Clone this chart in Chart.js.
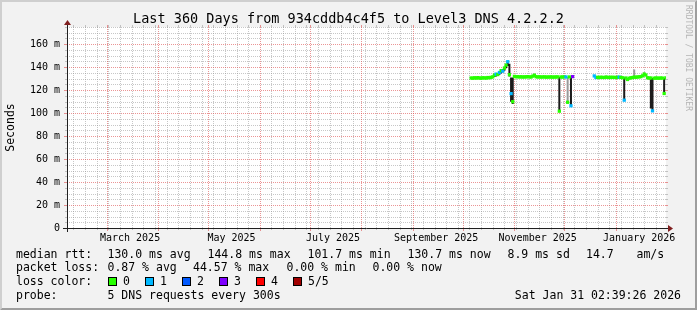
<!DOCTYPE html>
<html lang="en">
<head>
<meta charset="UTF-8">
<title>Last 360 Days from 934cddb4c4f5 to Level3 DNS 4.2.2.2</title>
<script src="https://cdn.jsdelivr.net/npm/chart.js@4"></script>
<style>
  html, body { margin: 0; padding: 0; background: #f2f2f2; }
  #wrap { width: 697px; height: 310px; }
</style>
</head>
<body>
<div id="wrap"><canvas id="chart" width="697" height="310"></canvas></div>
<script>
// time window: 360 days ending at the probe timestamp
const endTime = Date.UTC(2026, 0, 31, 2, 39, 26);
const spanDays = 360;
const startTime = endTime - spanDays * 86400000;

const yMax = 175;
const yTicks = [0, 20, 40, 60, 80, 100, 120, 140, 160];
const monthLabels = ['March 2025', 'May 2025', 'July 2025', 'September 2025', 'November 2025', 'January 2026'];
const labelMonths = ['2025-03-01', '2025-05-01', '2025-07-01', '2025-09-01', '2025-11-01', '2026-01-01'];

// daily median rtt (ms) from medianStart, null = no data
const medianStart = '2025-10-06';
const median = [
  // Oct 6 - 31
  130.6, 130.4, 130.8, 130.5, 130.9, 130.6, 130.4, 130.8, 130.7, 130.5, 131.0, 130.8, 131.2,
  131.6, 133.2, 134.0, 133.6, 135.4, 137.0, 136.6, 139.2, 141.8, 144.8, 133.5, 117.0, 110.0,
  // Nov
  132.0, 131.6, 131.8, 131.5, 131.7, 131.4, 131.6, 131.5, 131.8, 131.6, 131.4, 132.2, 133.0, 131.7, 131.5,
  131.6, 131.4, 131.5, 131.6, 131.3, 131.5, 131.4, 131.6, 131.3, 131.5, 131.4, 131.6, 101.7, 131.5, 131.4,
  // Dec 1 - 6, then gap Dec 7 - 18
  131.6, 131.5, 109.5, 131.5, 106.4, 131.8,
  null, null, null, null, null, null, null, null, null, null, null, null,
  // Dec 19 - 31
  132.4, 131.0, 131.2, 131.0, 131.3, 131.1, 131.0, 131.4, 131.2, 131.0, 131.3, 131.1, 131.2,
  // Jan
  131.0, 131.2, 131.4, 131.1, 130.8, 111.3, 130.6, 129.3, 130.4, 130.8, 131.0, 131.4, 131.2, 131.5, 131.6,
  131.8, 132.5, 134.0, 133.2, 130.8, 130.5, 130.6, 102.0, 130.4, 130.6, 130.5, 130.4, 130.6, 130.5, 117.1, 130.7
];
// pings lost (of 5) for each day above
const loss = [
  0, 0, 0, 0, 0, 0, 0, 0, 0, 0, 0, 0, 0,
  0, 0, 1, 0, 1, 0, 1, 0, 0, 1, 0, 1, 0,
  0, 0, 0, 0, 0, 0, 0, 0, 0, 0, 0, 0, 0, 0, 0,
  0, 0, 0, 0, 0, 0, 0, 0, 0, 0, 0, 0, 0, 0, 0,
  0, 1, 0, 0, 1, 3,
  0, 0, 0, 0, 0, 0, 0, 0, 0, 0, 0, 0,
  1, 1, 0, 0, 0, 0, 0, 0, 0, 0, 0, 0, 0,
  0, 0, 1, 0, 0, 1, 0, 0, 0, 0, 0, 0, 0, 0, 0,
  0, 0, 0, 0, 0, 0, 0, 1, 0, 0, 0, 0, 0, 0, 0, 0
];

// dense smoke (dark) ranges
const smokeDates = ['2025-10-20', '2025-10-21', '2025-10-22', '2025-10-23', '2025-10-24', '2025-10-25',
  '2025-10-26', '2025-10-27', '2025-10-28', '2025-10-29', '2025-10-30', '2025-10-31', '2025-11-28',
  '2025-12-05', '2026-01-06', '2026-01-22', '2026-01-23', '2026-01-30'];
const smokeLow  = [131.5, 132.0, 132.5, 133.5, 134.5, 135.5, 137.0, 139.0, 141.0, 132.0, 110.0, 108.0, 101.0,
  105.5, 110.5, 104.0, 101.6, 116.5];
const smokeHigh = [133.5, 134.5, 135.0, 136.0, 137.5, 138.5, 140.5, 143.0, 145.5, 143.0, 131.0, 131.0, 131.5,
  131.5, 131.0, 130.6, 130.6, 130.5];

// light smoke ranges
const hazeDates = ['2025-11-13', '2025-12-03', '2025-12-26', '2026-01-02', '2026-01-12', '2026-01-18'];
const hazeLow  = [131.5, 108.0, 130.5, 130.5, 131.4, 132.0];
const hazeHigh = [134.5, 131.5, 132.5, 132.5, 138.0, 135.5];

const lossColors = ['#26ff00', '#00b8ff', '#0059ff', '#7e00ff', '#ff0000', '#a10000'];
const lossNames = ['0', '1', '2', '3', '4', '5/5'];

const FONT = '"DejaVu Sans Mono", monospace';

function dayOf(str) {
  const p = str.split('-').map(Number);
  return (Date.UTC(p[0], p[1] - 1, p[2]) - startTime) / 86400000;
}

const firstDay = dayOf(medianStart);
const medianPoints = median.map((v, i) => ({ x: firstDay + i, y: v }));
const medianColors = loss.map(l => lossColors[l]);

function rangePoints(dates, lo, hi) {
  const pts = [];
  dates.forEach((d, i) => {
    const x = dayOf(d);
    pts.push({ x: x, y: hi[i] }, { x: x, y: lo[i] }, { x: x, y: null });
  });
  return pts;
}

// rrdtool style background, grid, axes and legend
const rrdLook = {
  id: 'rrdLook',
  beforeDraw(chart) {
    const ctx = chart.ctx, a = chart.chartArea;
    const xs = chart.scales.x, ys = chart.scales.y;
    const W = chart.width, H = chart.height;
    ctx.save();
    ctx.fillStyle = '#f2f2f2';
    ctx.fillRect(0, 0, W, H);
    // 3d border
    ctx.fillStyle = '#cfcfcf';
    ctx.beginPath();
    ctx.moveTo(0, H); ctx.lineTo(2, H - 2); ctx.lineTo(2, 2); ctx.lineTo(W - 2, 2); ctx.lineTo(W, 0); ctx.lineTo(0, 0);
    ctx.closePath(); ctx.fill();
    ctx.fillStyle = '#9e9e9e';
    ctx.beginPath();
    ctx.moveTo(2, H - 2); ctx.lineTo(W - 2, H - 2); ctx.lineTo(W - 2, 2); ctx.lineTo(W, 0); ctx.lineTo(W, H); ctx.lineTo(0, H);
    ctx.closePath(); ctx.fill();

    ctx.fillStyle = '#ffffff';
    ctx.fillRect(a.left, a.top, a.right - a.left, a.bottom - a.top);

    const minor = 'rgba(143,143,143,0.5)';
    const major = 'rgba(222,79,79,0.6)';
    ctx.lineWidth = 1;

    function vline(px, color, isMajor) {
      px = Math.round(px) + 0.5;
      ctx.strokeStyle = color;
      ctx.setLineDash([]);
      ctx.beginPath();
      ctx.moveTo(px, a.top - 2); ctx.lineTo(px, a.top);
      ctx.moveTo(px, a.bottom); ctx.lineTo(px, a.bottom + (isMajor ? 3 : 2));
      ctx.stroke();
      ctx.setLineDash([1, 1]);
      ctx.beginPath();
      ctx.moveTo(px, a.top); ctx.lineTo(px, a.bottom);
      ctx.stroke();
    }
    function hline(py, color, isMajor) {
      py = Math.round(py) + 0.5;
      ctx.strokeStyle = color;
      ctx.setLineDash([]);
      ctx.beginPath();
      ctx.moveTo(a.left - (isMajor ? 3 : 2), py); ctx.lineTo(a.left, py);
      ctx.moveTo(a.right, py); ctx.lineTo(a.right + 2, py);
      ctx.stroke();
      ctx.setLineDash([1, 1]);
      ctx.beginPath();
      ctx.moveTo(a.left, py); ctx.lineTo(a.right, py);
      ctx.stroke();
    }

    // weekly minor lines (Sundays), skipping month starts
    let t = Date.UTC(2025, 1, 9);
    while (t <= endTime) {
      const d = new Date(t);
      if (d.getUTCDate() !== 1) vline(xs.getPixelForValue((t - startTime) / 86400000), minor, false);
      t += 7 * 86400000;
    }
    for (let v = 5; v <= yMax; v += 5) {
      if (v % 20 !== 0) hline(ys.getPixelForValue(v), minor, false);
    }
    // month lines and 20 m lines
    for (let m = 2; m <= 12; m++) {
      const tm = Date.UTC(2025, m, 1);
      vline(xs.getPixelForValue((tm - startTime) / 86400000), major, true);
    }
    yTicks.forEach(v => { if (v > 0) hline(ys.getPixelForValue(v), major, true); });
    ctx.restore();
  },
  afterDraw(chart) {
    const ctx = chart.ctx, a = chart.chartArea;
    ctx.save();
    // axes
    ctx.strokeStyle = '#1f1f1f';
    ctx.lineWidth = 1;
    ctx.setLineDash([]);
    ctx.beginPath();
    ctx.moveTo(a.left - 4, a.bottom + 0.5); ctx.lineTo(a.right + 4, a.bottom + 0.5);
    ctx.moveTo(a.left + 0.5, a.bottom + 4); ctx.lineTo(a.left + 0.5, a.top - 4);
    ctx.stroke();
    ctx.fillStyle = '#801f1f';
    ctx.beginPath();
    ctx.moveTo(a.right + 2, a.bottom - 3); ctx.lineTo(a.right + 2, a.bottom + 4); ctx.lineTo(a.right + 7, a.bottom + 0.5);
    ctx.closePath(); ctx.fill();
    ctx.beginPath();
    ctx.moveTo(a.left - 3, a.top - 2); ctx.lineTo(a.left + 4, a.top - 2); ctx.lineTo(a.left + 0.5, a.top - 7);
    ctx.closePath(); ctx.fill();

    // title
    ctx.fillStyle = '#000';
    ctx.textBaseline = 'middle';
    ctx.textAlign = 'center';
    ctx.font = '13.5px ' + FONT;
    ctx.fillText('Last 360 Days from 934cddb4c4f5 to Level3 DNS 4.2.2.2', 348.5, 19);

    // vertical axis title
    ctx.save();
    ctx.translate(11, 127.5);
    ctx.rotate(-Math.PI / 2);
    ctx.font = '11.5px ' + FONT;
    ctx.fillText('Seconds', 0, 0);
    ctx.restore();

    // watermark
    ctx.save();
    ctx.translate(688, 5);
    ctx.rotate(Math.PI / 2);
    ctx.textAlign = 'left';
    ctx.fillStyle = '#b5b5b5';
    ctx.font = '8px ' + FONT;
    ctx.fillText('RRDTOOL / TOBI OETIKER', 0, 0);
    ctx.restore();

    // legend
    ctx.font = '11.5px ' + FONT;
    ctx.textAlign = 'left';
    const rows = [
      [255, [[16, 'median rtt:'], [107.5, '130.0 ms avg'], [207.5, '144.8 ms max'], [307.5, '101.7 ms min'],
             [407.5, '130.7 ms now'], [507.5, '8.9 ms sd'], [586, '14.7'], [636.5, 'am/s']]],
      [268.5, [[16, 'packet loss:'], [107.5, '0.87 % avg'], [193, '44.57 % max'], [286.5, '0.00 % min'],
               [372.5, '0.00 % now']]],
      [282, [[16, 'loss color:']]],
      [296.5, [[16, 'probe:'], [107.5, '5 DNS requests every 300s']]]
    ];
    rows.forEach(r => r[1].forEach(it => ctx.fillText(it[1], it[0], r[0])));
    lossNames.forEach((name, i) => {
      const bx = 108 + i * 37;
      ctx.fillStyle = lossColors[i];
      ctx.fillRect(bx, 277, 9, 9);
      ctx.strokeStyle = '#000';
      ctx.strokeRect(bx + 0.5, 277.5, 8, 8);
      ctx.fillStyle = '#000';
      ctx.fillText(name, bx + 15, 282);
    });
    ctx.textAlign = 'right';
    ctx.fillText('Sat Jan 31 02:39:26 2026', 681, 296.5);
    ctx.restore();
  }
};

new Chart(document.getElementById('chart'), {
  type: 'scatter',
  data: {
    datasets: [
      {
        label: 'median rtt',
        data: medianPoints,
        showLine: false,
        pointStyle: 'rect',
        pointRadius: 2.3,
        pointBorderWidth: 0,
        pointBackgroundColor: medianColors,
        order: 0
      },
      {
        label: 'smoke',
        type: 'line',
        data: rangePoints(smokeDates, smokeLow, smokeHigh),
        borderColor: '#1c1c1c',
        borderWidth: 2,
        borderCapStyle: 'butt',
        pointRadius: 0,
        spanGaps: false,
        order: 1
      },
      {
        label: 'haze',
        type: 'line',
        data: rangePoints(hazeDates, hazeLow, hazeHigh),
        borderColor: '#9a9a9a',
        borderWidth: 2,
        borderCapStyle: 'butt',
        pointRadius: 0,
        spanGaps: false,
        order: 2
      }
    ]
  },
  options: {
    responsive: false,
    animation: false,
    events: [],
    layout: { padding: { top: 27, right: 31, bottom: 0, left: 0 } },
    plugins: {
      legend: { display: false },
      tooltip: { enabled: false },
      title: { display: false }
    },
    scales: {
      x: {
        type: 'linear',
        min: 0,
        max: spanDays,
        grid: { display: false, drawTicks: false },
        border: { display: false },
        afterBuildTicks: s => { s.ticks = labelMonths.map(d => ({ value: dayOf(d) + 14 })); },
        afterFit: s => { s.height = 82; },
        ticks: {
          autoSkip: false,
          maxRotation: 0,
          padding: 4,
          color: '#000',
          font: { family: FONT, size: 10 },
          callback: (v, i) => monthLabels[i]
        }
      },
      y: {
        min: 0,
        max: yMax,
        grid: { display: false, drawTicks: false },
        border: { display: false },
        afterBuildTicks: s => { s.ticks = yTicks.map(v => ({ value: v })); },
        afterFit: s => { s.width = 67; },
        ticks: {
          padding: 7,
          color: '#000',
          font: { family: FONT, size: 10 },
          callback: v => (v === 0 ? '0' : v + ' m')
        }
      }
    }
  },
  plugins: [rrdLook]
});
</script>
</body>
</html>
